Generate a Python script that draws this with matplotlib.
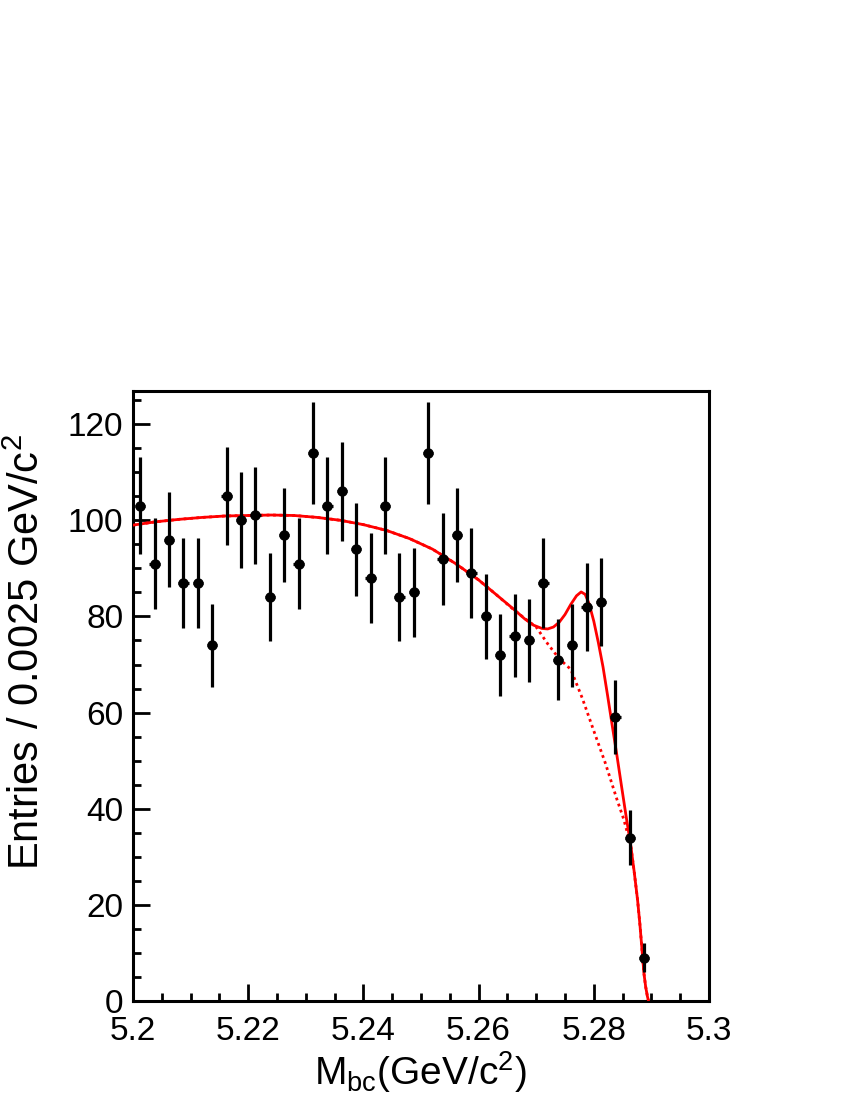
import matplotlib
matplotlib.use("Agg")
import matplotlib.pyplot as plt
from matplotlib.ticker import MultipleLocator, FixedLocator

plt.rcParams['font.family'] = ['Liberation Sans', 'DejaVu Sans']
plt.rcParams['mathtext.fontset'] = 'custom'
plt.rcParams['mathtext.rm'] = 'Liberation Sans'
plt.rcParams['mathtext.it'] = 'Liberation Sans'

# Data: bin centres (bin width 0.0025 GeV/c^2) and counts
bin_centers = [5.20125, 5.20375, 5.20625, 5.20875, 5.21125, 5.21375, 5.21625, 5.21875,
               5.22125, 5.22375, 5.22625, 5.22875, 5.23125, 5.23375, 5.23625, 5.23875,
               5.24125, 5.24375, 5.24625, 5.24875, 5.25125, 5.25375, 5.25625, 5.25875,
               5.26125, 5.26375, 5.26625, 5.26875, 5.27125, 5.27375, 5.27625, 5.27875,
               5.28125, 5.28375, 5.28625, 5.28875]
counts = [103, 91, 96, 87, 87, 74, 105, 100, 101, 84, 97, 91, 114, 103, 106, 94,
          88, 103, 84, 85, 114, 92, 97, 89, 80, 72, 76, 75, 87, 71, 74, 82,
          83, 59, 34, 9]
count_errors = [10.1, 9.5, 9.8, 9.3, 9.3, 8.6, 10.2, 10.0, 10.0, 9.2, 9.8, 9.5, 10.7, 10.1,
                10.3, 9.7, 9.4, 10.1, 9.2, 9.2, 10.7, 9.6, 9.8, 9.4, 8.9, 8.5, 8.7, 8.7,
                9.3, 8.4, 8.6, 9.1, 9.1, 7.7, 5.8, 3.0]

# Fit curves
total_x = [5.2000, 5.2040, 5.2080, 5.2120, 5.2160, 5.2200, 5.2240, 5.2280, 5.2320, 5.2360,
           5.2400, 5.2440, 5.2480, 5.2520, 5.2560, 5.2600, 5.2630, 5.2660, 5.2680, 5.2695,
           5.2710, 5.2720, 5.2730, 5.2740, 5.2750, 5.2760, 5.2770, 5.2778, 5.2785, 5.2792,
           5.2800, 5.2808, 5.2816, 5.2824, 5.2832, 5.2840, 5.2848, 5.2856, 5.2864, 5.2870,
           5.2876, 5.2880, 5.2884, 5.2887, 5.2890, 5.2893, 5.2895]
total_y = [99.0, 99.7, 100.2, 100.6, 100.9, 101.0, 101.1, 101.0, 100.6, 100.0,
           99.1, 97.9, 96.2, 94.0, 91.0, 87.6, 84.6, 81.6, 79.5, 78.2,
           77.5, 77.4, 77.8, 78.8, 80.4, 82.5, 84.3, 85.1, 84.6, 82.6,
           79.0, 74.5, 69.5, 63.5, 57.3, 51.2, 44.8, 38.5, 32.5, 27.0,
           21.0, 16.0, 10.2, 5.8, 3.0, 1.0, 0.0]

bkg_x = [5.2000, 5.2040, 5.2080, 5.2120, 5.2160, 5.2200, 5.2240, 5.2280, 5.2320, 5.2360,
         5.2400, 5.2440, 5.2480, 5.2520, 5.2560, 5.2600, 5.2630, 5.2660, 5.2680, 5.2700,
         5.2720, 5.2740, 5.2760, 5.2780, 5.2800, 5.2820, 5.2840, 5.2852, 5.2864, 5.2870,
         5.2876, 5.2880, 5.2884, 5.2887, 5.2890, 5.2893, 5.2895]
bkg_y = [99.0, 99.7, 100.2, 100.6, 100.9, 101.0, 101.1, 101.0, 100.6, 100.0,
         99.1, 97.9, 96.2, 94.0, 91.0, 87.6, 84.6, 81.5, 79.6, 77.8,
         74.3, 71.2, 69.0, 63.0, 56.2, 49.5, 42.0, 37.8, 32.5, 27.0,
         21.0, 16.0, 10.2, 5.8, 3.0, 1.0, 0.0]

x_ticks = [5.2, 5.22, 5.24, 5.26, 5.28, 5.3]
x_tick_labels = ["5.2", "5.22", "5.24", "5.26", "5.28", "5.3"]
y_ticks = [0, 20, 40, 60, 80, 100, 120]

fig = plt.figure(figsize=(8.5, 11), dpi=100)
ax = fig.add_axes([133/850, 99/1100, (709-133)/850, (1001-391)/1100])

ax.plot(bkg_x, bkg_y, color='#ff0000', lw=2.0, ls=(0, (1, 1.3)), zorder=2)
ax.plot(total_x, total_y, color='#ff0000', lw=2.0, zorder=3)
ax.errorbar(bin_centers, counts, yerr=count_errors, xerr=0.0009, fmt='o', color='black',
            ms=6.5, elinewidth=2.3, capsize=0, zorder=4)

ax.set_xlim(5.2, 5.3)
ax.set_ylim(0, 126.9)
ax.xaxis.set_major_locator(FixedLocator(x_ticks))
ax.set_xticklabels(x_tick_labels)
ax.xaxis.set_minor_locator(MultipleLocator(0.005))
ax.yaxis.set_major_locator(FixedLocator(y_ticks))
ax.yaxis.set_minor_locator(MultipleLocator(5))
ax.tick_params(which='both', direction='in', top=False, right=False, width=2.0,
               labelsize=24, colors='black')
ax.tick_params(which='major', length=12)
ax.tick_params(which='minor', length=6)
ax.tick_params(axis='x', pad=11)
ax.tick_params(axis='y', pad=7)
for s in ax.spines.values():
    s.set_linewidth(2.2)

fig.text(420/850, 1 - 1072/1100, r'M$_{\mathrm{bc}}$(GeV/c$^{2}$)', fontsize=28,
         ha='center', va='center')
fig.text(28/850, 1 - 652/1100, r'Entries / 0.0025 GeV/c$^{2}$', fontsize=30,
         ha='center', va='center', rotation=90)

fig.savefig('out.png', dpi=100)
